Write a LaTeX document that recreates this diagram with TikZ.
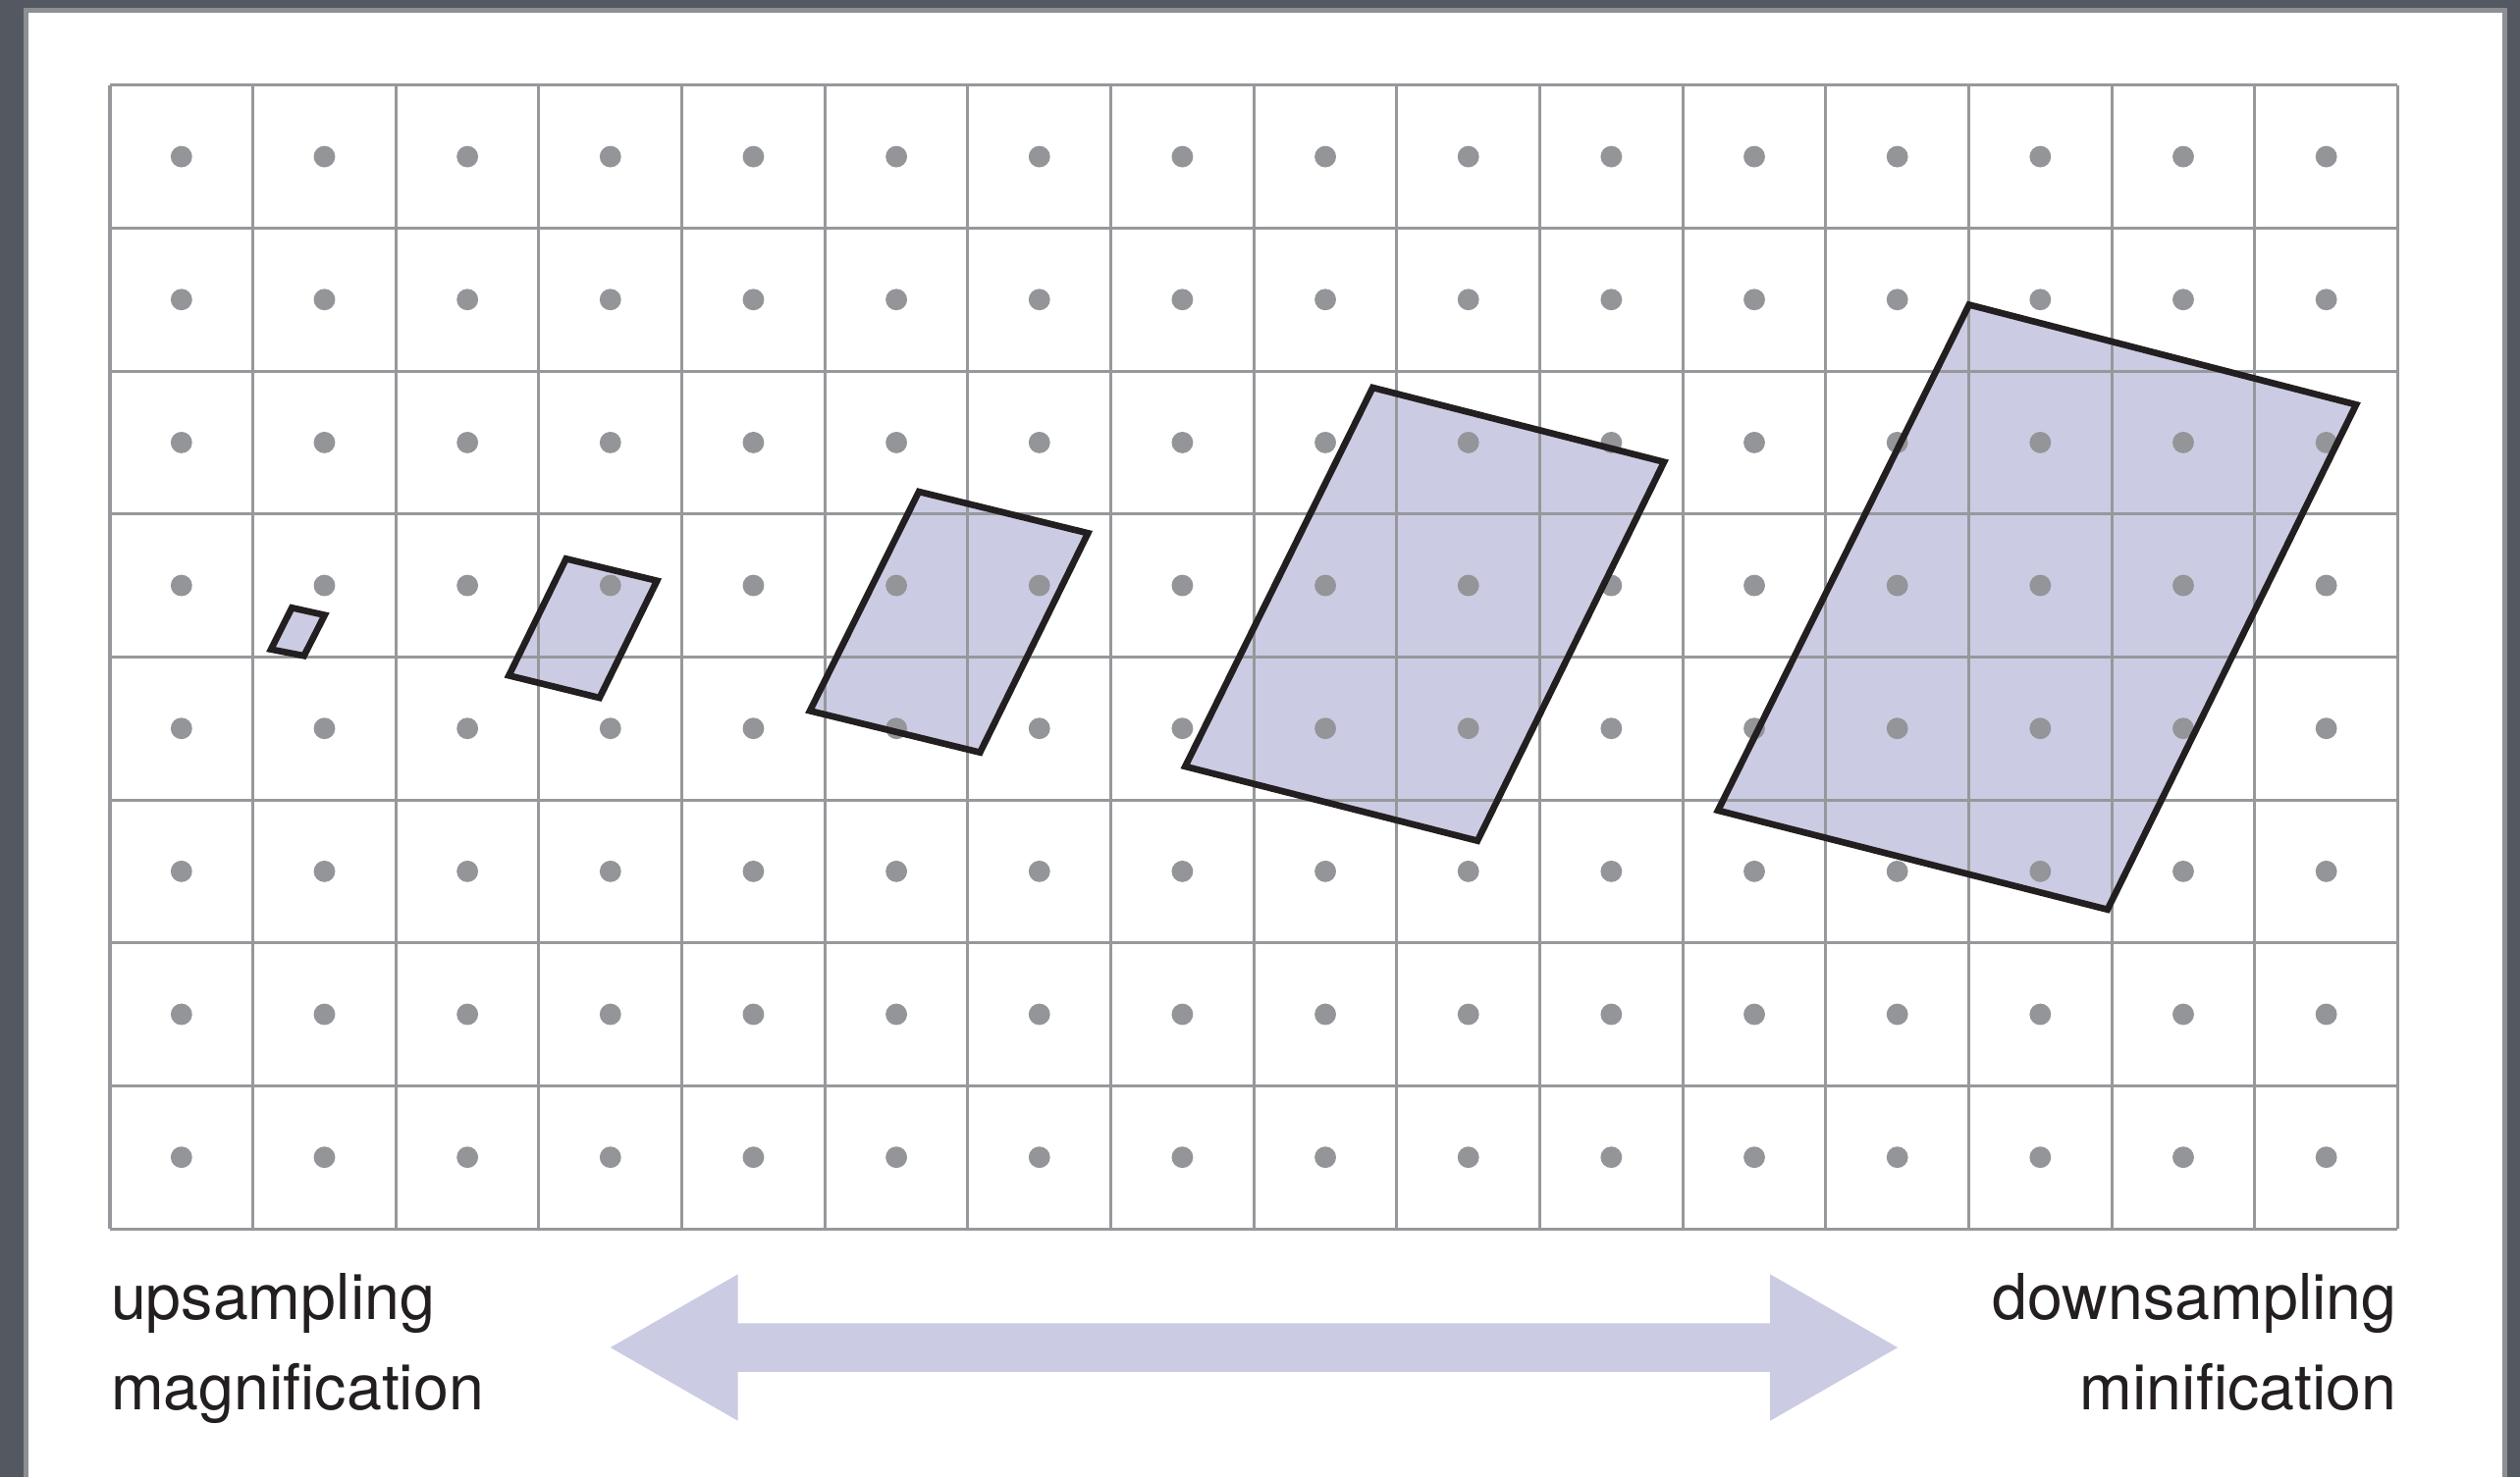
\documentclass[tikz,border=0pt]{standalone}
\usepackage{fontspec}
\setmainfont{TeX Gyre Heros}
\usetikzlibrary{positioning}
\definecolor{framedark}{RGB}{83,88,97}
\definecolor{framelight}{RGB}{140,143,148}
\definecolor{gridgray}{RGB}{150,152,155}
\definecolor{dotgray}{RGB}{147,149,152}
\definecolor{footfill}{RGB}{203,204,227}
\definecolor{inkblack}{RGB}{35,31,32}
\tikzset{
  gridline/.style={gridgray,line width=0.59pt},
  footprint/.style={inkblack,line width=1.3pt,line join=miter},
  lbl/.style={font=\fontsize{12.6}{15}\selectfont,text=inkblack,inner sep=0pt}
}

\begin{document}
\begin{tikzpicture}
  \useasboundingbox (-0.769,-1.737) rectangle (16.855,8.596);
  % frame
  \fill[framedark] (-0.769,-1.737) rectangle (16.855,8.596);
  \fill[framelight] (-0.604,-1.737) rectangle (16.766,8.541);
  \fill[white] (-0.570,-1.737) rectangle (16.732,8.506);
  % pixel footprints, corners n/e/s/w
  \coordinate (f1n) at (1.272,4.344); \coordinate (f1e) at (1.502,4.293);
  \coordinate (f1s) at (1.357,4.008); \coordinate (f1w) at (1.126,4.053);
  \coordinate (f2n) at (3.190,4.687); \coordinate (f2e) at (3.826,4.533);
  \coordinate (f2s) at (3.424,3.714); \coordinate (f2w) at (2.790,3.870);
  \coordinate (f3n) at (5.657,5.156); \coordinate (f3e) at (6.840,4.866);
  \coordinate (f3s) at (6.085,3.332); \coordinate (f3w) at (4.895,3.623);
  \coordinate (f4n) at (8.831,5.884); \coordinate (f4e) at (10.869,5.364);
  \coordinate (f4s) at (9.564,2.714); \coordinate (f4w) at (7.520,3.234);
  \coordinate (f5n) at (13.002,6.464); \coordinate (f5e) at (15.709,5.765);
  \coordinate (f5s) at (13.970,2.233); \coordinate (f5w) at (11.246,2.926);
  \foreach \k in {1,...,5}
    \fill[footfill] (f\k n) -- (f\k e) -- (f\k s) -- (f\k w) -- cycle;
  % sample grid
  \draw[gridline] (0,0) grid (16,8);
  \foreach \i in {0,...,15}
    \foreach \j in {0,...,7}
      \fill[dotgray] (\i+0.5,\j+0.5) circle (0.075);
  \foreach \k in {1,...,5}
    \draw[footprint] (f\k n) -- (f\k e) -- (f\k s) -- (f\k w) -- cycle;
  % double arrow
  \fill[footfill] (3.5,-0.831) -- (4.392,-0.318) -- (4.392,-0.661) -- (11.61,-0.661)
    -- (11.61,-0.318) -- (12.503,-0.831) -- (11.61,-1.344) -- (11.61,-1.001)
    -- (4.392,-1.001) -- (4.392,-1.344) -- cycle;
  % labels
  \node[lbl,anchor=base west] (up) at (0,-0.634) {upsampling};
  \node[lbl,anchor=base west] (mag) at (0,-1.264) {magnification};
  \node[lbl,anchor=base east] (down) at (16,-0.634) {downsampling};
  \node[lbl,anchor=base east] (mini) at (16,-1.264) {minification};
\end{tikzpicture}
\end{document}
